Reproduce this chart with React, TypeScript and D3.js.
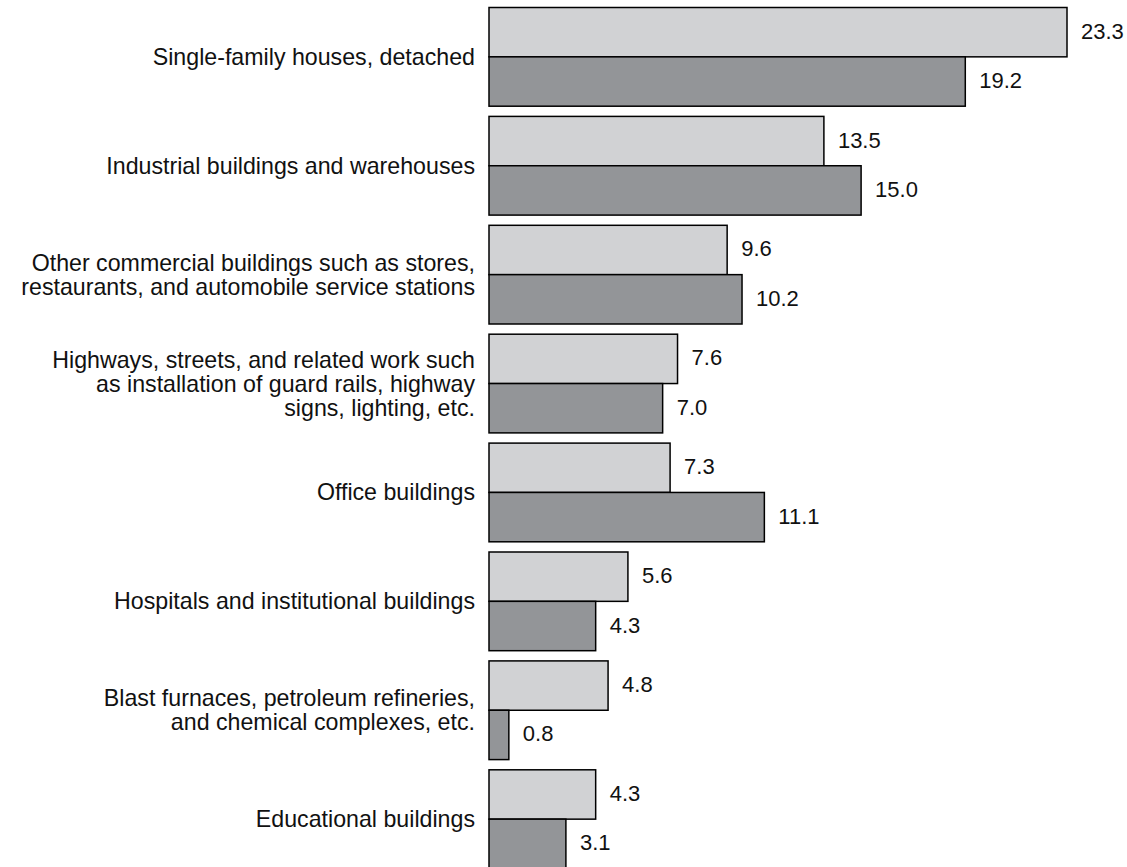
import * as d3 from 'd3'
import React from 'react'

const categories = [
  'Single-family houses, detached',
  'Industrial buildings and warehouses',
  'Other commercial buildings such as stores,|restaurants, and automobile service stations',
  'Highways, streets, and related work such|as installation of guard rails, highway|signs, lighting, etc.',
  'Office buildings',
  'Hospitals and institutional buildings',
  'Blast furnaces, petroleum refineries,|and chemical complexes, etc.',
  'Educational buildings',
]
const seriesA = [23.3, 13.5, 9.6, 7.6, 7.3, 5.6, 4.8, 4.3]
const seriesB = [19.2, 15.0, 10.2, 7.0, 11.1, 4.3, 0.8, 3.1]
const seriesKeys = ['a', 'b']
const seriesColors = ['#d1d2d4', '#939598']

const W = 1127
const H = 867
const FONT = '"Liberation Sans", Arial, Helvetica, sans-serif'

const App = () => {
  const x = d3.scaleLinear().domain([0, 23.3]).range([489, 1067])
  const y = d3
    .scaleBand()
    .domain(categories)
    .range([7.5, 868.5])
    .paddingInner(0.0937)
    .paddingOuter(0)
  const y2 = d3.scaleBand().domain(seriesKeys).range([0, y.bandwidth()])
  const lineH = 24

  return (
    <div style={{ position: 'absolute', left: 0, top: 0 }}>
      <svg width={W} height={H} style={{ display: 'block' }} fontFamily={FONT}>
        <rect width={W} height={H} fill="#fff" />
        {categories.map((c, i) => {
          const g0 = y(c) as number
          const vals = [seriesA[i], seriesB[i]]
          const lines = c.split('|')
          const cy = g0 + y.bandwidth() / 2
          return (
            <g key={c}>
              <text x={475} fontSize={23.2} textAnchor="end" fill="#111">
                {lines.map((l, j) => (
                  <tspan
                    key={j}
                    x={475}
                    y={cy + (j - (lines.length - 1) / 2) * lineH}
                    dominantBaseline="central"
                  >
                    {l}
                  </tspan>
                ))}
              </text>
              {vals.map((v, k) => {
                const by = g0 + (y2(seriesKeys[k]) as number)
                return (
                  <g key={k}>
                    <rect
                      x={x(0)}
                      y={by}
                      width={x(v) - x(0)}
                      height={y2.bandwidth()}
                      fill={seriesColors[k]}
                      stroke="#000"
                      strokeWidth={1.5}
                    />
                    <text
                      x={x(v) + 14}
                      y={by + y2.bandwidth() / 2 - 1}
                      dominantBaseline="central"
                      fontSize={22}
                      fill="#111"
                    >
                      {v.toFixed(1)}
                    </text>
                  </g>
                )
              })}
            </g>
          )
        })}
      </svg>
    </div>
  )
}

export default App
